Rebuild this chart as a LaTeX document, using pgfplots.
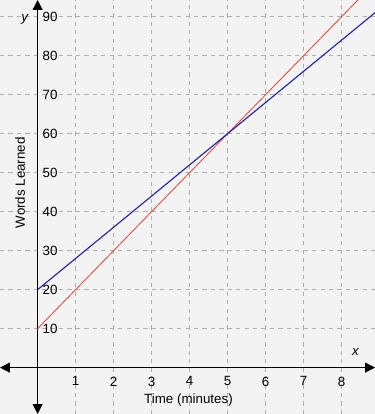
\documentclass[border=0pt]{standalone}
\usepackage{pgfplots}
\pgfplotsset{compat=1.18}
\usepackage{fontspec}
\setmainfont{Liberation Sans}
\usetikzlibrary{arrows.meta}
\definecolor{bgc}{RGB}{243,243,243}
\definecolor{gridc}{RGB}{175,175,175}
\definecolor{redl}{RGB}{228,70,58}
\definecolor{bluel}{RGB}{35,35,160}
\begin{document}
\begin{tikzpicture}
\begin{axis}[
  name=ax,
  scale only axis,
  width=9.375cm, height=10.35cm,
  xmin=-0.99, xmax=8.88, ymin=-11.9, ymax=94.3,
  axis lines=middle,
  axis line style={black, line width=0.9pt, {Triangle[length=7pt,width=7pt]}-{Triangle[length=7pt,width=7pt]}},
  axis background/.style={fill=bgc},
  xtick={1,2,3,4,5,6,7,8},
  ytick={10,20,30,40,50,60,70,80,90},
  major tick length=0pt,
  grid=major,
  major grid style={gridc, dashed, line width=0.5pt},
  font=\fontsize{9.5}{11}\selectfont,
  /pgf/number format/assume math mode=true,
  yticklabel style={anchor=west},
  xticklabel style={anchor=north, yshift=-3pt},
  clip=true,
]
\addplot[redl, line width=0.6pt] coordinates {(0,10) (5,60) (9,100)};
\addplot[bluel, line width=0.8pt] coordinates {(0,20) (5,60) (9,92)};
\node at (axis cs:8.37,4.0) {\textit{x}};
\node at (axis cs:-0.33,89.3) {\textit{y}};
\node at (axis cs:3.97,-8.3) {Time (minutes)};
\node[rotate=90] at (axis cs:-0.46,47.4) {Words Learned};
\end{axis}
\pgfresetboundingbox
\path (ax.south west) rectangle (ax.north east);
\end{tikzpicture}
\end{document}
